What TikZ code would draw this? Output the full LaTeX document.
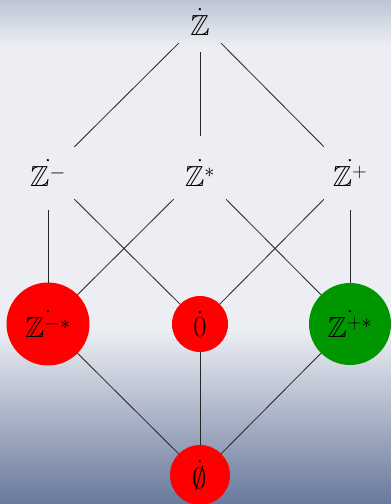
\RequirePackage{fix-cm}
\documentclass[tikz,border=0pt]{standalone}
\usepackage{amssymb}
\definecolor{bgtop}{RGB}{189,197,213}
\definecolor{bgmid}{RGB}{236,238,243}
\definecolor{bgbot}{RGB}{105,121,156}
\definecolor{ballgreen}{RGB}{0,150,0}
\tikzset{
  lbl/.style={circle, inner sep=0pt, outer sep=0pt, minimum size=74pt, font=\fontsize{29}{35}\selectfont},
  toplbl/.style={lbl, minimum size=60pt},
  ball/.style={circle, inner sep=0pt, outer sep=0pt, font=\fontsize{29}{35}\selectfont},
  link/.style={line width=0.8pt, black!85}
}
\begin{document}
\begin{tikzpicture}[x=1pt,y=-1pt]
\useasboundingbox (0,0) rectangle (391,504);
\shade[top color=bgtop,bottom color=bgmid] (0,0) rectangle (391,46);
\fill[bgmid] (0,45.5) rectangle (391,330.5);
\shade[top color=bgmid,bottom color=bgbot] (0,330) rectangle (391,504);

\node[toplbl] (Z) at (200,22) {$\dot{\mathbb{Z}}$};
\node[lbl] (Zm) at (48,173) {$\dot{\mathbb{Z}^-}$};
\node[lbl] (Zs) at (200,173) {$\dot{\mathbb{Z}^*}$};
\node[lbl] (Zp) at (350,173) {$\dot{\mathbb{Z}^+}$};
\node[ball, fill=red, minimum size=83pt] (Zms) at (48,324) {$\dot{\mathbb{Z}^{-*}}$};
\node[ball, fill=red, minimum size=56pt] (N) at (200,324) {$\dot{0}$};
\node[ball, fill=ballgreen, minimum size=82pt] (Zps) at (350,324) {$\dot{\mathbb{Z}^{+*}}$};
\node[ball, fill=red, minimum size=60pt] (E) at (200,475) {$\dot{\emptyset}$};

\draw[link] (Z) -- (Zm);
\draw[link] (Z) -- (Zs);
\draw[link] (Z) -- (Zp);
\draw[link] (Zm) -- (Zms);
\draw[link] (Zm) -- (N);
\draw[link] (Zs) -- (Zms);
\draw[link] (Zs) -- (Zps);
\draw[link] (Zp) -- (N);
\draw[link] (Zp) -- (Zps);
\draw[link] (Zms) -- (E);
\draw[link] (N) -- (E);
\draw[link] (Zps) -- (E);
\end{tikzpicture}
\end{document}
